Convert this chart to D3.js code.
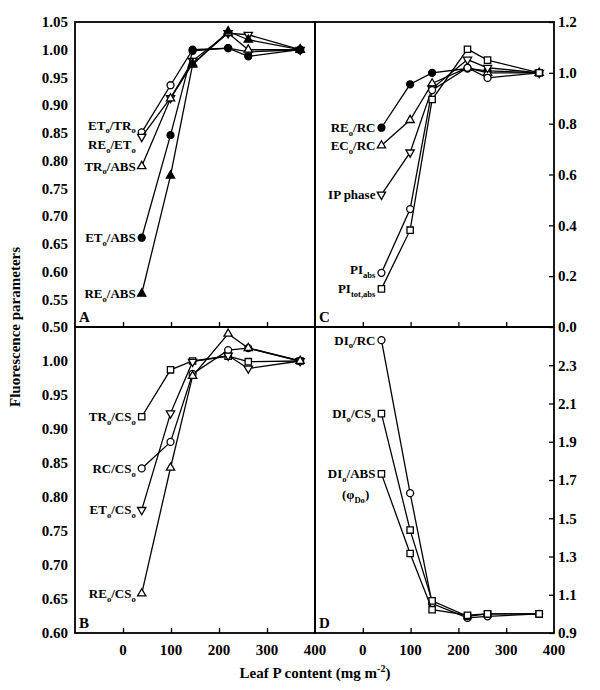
<!DOCTYPE html>
<html>
<head>
<meta charset="utf-8">
<script src="https://cdn.jsdelivr.net/npm/d3@7"></script>
<style>
  body { margin: 0; background: #fff; }
  svg text { font-family: "Liberation Serif", "Times New Roman", serif; font-weight: bold; fill: #000; }
</style>
</head>
<body>
<div id="chart"></div>
<script>
// leaf P content (mg m-2), same for every series
const leafP = [39, 99, 145, 219, 261, 369];

// panel A
const etoTro = [0.851, 0.936, 1.0, 1.003, 0.996, 1.0];
const reoEto = [0.843, 0.913, 0.98, 1.03, 1.027, 1.0];
const troAbs = [0.79, 0.912, 0.975, 1.03, 1.0, 1.0];
const etoAbs = [0.661, 0.846, 0.998, 1.003, 0.988, 1.0];
const reoAbs = [0.56, 0.773, 0.973, 1.033, 1.018, 1.0];

// panel C
const reoRc = [0.784, 0.955, 1.0, 1.017, 1.008, 1.0];
const ecoRc = [0.714, 0.814, 0.958, 1.02, 1.0, 1.0];
const ipPhase = [0.521, 0.687, 0.938, 1.052, 1.02, 1.0];
const piAbs = [0.213, 0.464, 0.932, 1.02, 0.98, 1.0];
const piTotAbs = [0.15, 0.381, 0.895, 1.093, 1.05, 1.0];

// panel B
const troCso = [0.918, 0.987, 1.0, 1.007, 0.999, 1.0];
const rcCso = [0.842, 0.881, 0.981, 1.016, 1.019, 1.0];
const etoCso = [0.781, 0.923, 0.999, 1.008, 0.989, 1.0];
const reoCso = [0.658, 0.843, 0.978, 1.04, 1.019, 1.0];

// panel D
const dioRc = [2.431, 1.631, 1.054, 0.979, 0.987, 1.0];
const dioCso = [2.047, 1.438, 1.068, 0.987, 1.0, 1.0];
const dioAbs = [1.732, 1.316, 1.022, 0.993, 1.0, 1.0];

const xTicks = [0, 100, 200, 300, 400];
const ticksA = [0.50, 0.55, 0.60, 0.65, 0.70, 0.75, 0.80, 0.85, 0.90, 0.95, 1.00, 1.05];
const ticksB = [0.60, 0.65, 0.70, 0.75, 0.80, 0.85, 0.90, 0.95, 1.00];
const ticksC = [0.0, 0.2, 0.4, 0.6, 0.8, 1.0, 1.2];
const ticksD = [0.9, 1.1, 1.3, 1.5, 1.7, 1.9, 2.1, 2.3];

// labels: {x} = subscript
const panels = [
  { id: "A", col: 0, row: 0, domain: [0.5, 1.05], ticks: ticksA, fmt: ".2f", side: "left",
    series: [
      { label: "ET{o}/TR{o}", values: etoTro, sym: "circle", fill: false, dy: -7 },
      { label: "RE{o}/ET{o}", values: reoEto, sym: "down", fill: false, dy: 8 },
      { label: "TR{o}/ABS", values: troAbs, sym: "up", fill: false },
      { label: "ET{o}/ABS", values: etoAbs, sym: "circle", fill: true },
      { label: "RE{o}/ABS", values: reoAbs, sym: "up", fill: true }
    ] },
  { id: "C", col: 1, row: 0, domain: [0, 1.2], ticks: ticksC, fmt: ".1f", side: "right",
    series: [
      { label: "RE{o}/RC", values: reoRc, sym: "circle", fill: true },
      { label: "EC{o}/RC", values: ecoRc, sym: "up", fill: false },
      { label: "IP phase", values: ipPhase, sym: "down", fill: false },
      { label: "PI{abs}", values: piAbs, sym: "circle", fill: false, dy: -3 },
      { label: "PI{tot,abs}", values: piTotAbs, sym: "square", fill: false }
    ] },
  { id: "B", col: 0, row: 1, domain: [0.6, 1.05], ticks: ticksB, fmt: ".2f", side: "left",
    series: [
      { label: "TR{o}/CS{o}", values: troCso, sym: "square", fill: false },
      { label: "RC/CS{o}", values: rcCso, sym: "circle", fill: false },
      { label: "ET{o}/CS{o}", values: etoCso, sym: "down", fill: false },
      { label: "RE{o}/CS{o}", values: reoCso, sym: "up", fill: false }
    ] },
  { id: "D", col: 1, row: 1, domain: [0.9, 2.5], ticks: ticksD, fmt: ".1f", side: "right",
    series: [
      { label: "DI{o}/RC", values: dioRc, sym: "circle", fill: false },
      { label: "DI{o}/CS{o}", values: dioCso, sym: "square", fill: false },
      { label: "DI{o}/ABS", values: dioAbs, sym: "square", fill: false, sub2: "(φ{Do})" }
    ] }
];

const width = 600, height = 690;
const colX = [75, 315, 554];
const rowY = [22, 327, 633];

const svg = d3.select("#chart").append("svg")
  .attr("width", width).attr("height", height);

const symbols = {
  circle: d3.symbol().type(d3.symbolCircle).size(38),
  square: d3.symbol().type(d3.symbolSquare).size(40),
  up: d3.symbol().type(d3.symbolTriangle).size(30),
  down: d3.symbol().type(d3.symbolTriangle).size(30)
};

// write "AB{sub}" as tspans
function richText(sel, str, fs) {
  const parts = str.split(/(\{[^}]*\})/).filter(s => s.length);
  let lowered = false;
  parts.forEach(p => {
    if (p.startsWith("{")) {
      sel.append("tspan").attr("font-size", fs * 0.66).attr("dy", fs * 0.28)
        .text(p.slice(1, -1));
      lowered = true;
    } else {
      sel.append("tspan").attr("font-size", fs).attr("dy", lowered ? -fs * 0.28 : 0)
        .text(p);
      lowered = false;
    }
  });
}

panels.forEach(p => {
  const x0 = colX[p.col], x1 = colX[p.col + 1];
  const y0 = rowY[p.row], y1 = rowY[p.row + 1];

  const x = d3.scaleLinear().domain([-100, 400]).range([x0, x1]);
  const y = d3.scaleLinear().domain(p.domain).range([y1, y0]);

  const g = svg.append("g");

  // x ticks inward
  const xAxis = d3.axisTop(x).tickValues(xTicks.filter(t => t < 400)).tickSize(5).tickFormat("");
  g.append("g").attr("transform", `translate(0,${y1})`).call(xAxis)
    .call(s => s.select(".domain").remove())
    .call(s => s.selectAll("line").attr("stroke-width", 1.3));

  // y axis ticks + labels
  const yTicks = p.ticks.filter(t => !(p.row === 1 && Math.abs(t - p.domain[1]) < 1e-9));
  if (p.side === "left") {
    const ya = d3.axisLeft(y).tickValues(yTicks).tickSize(0).tickPadding(7).tickFormat(d3.format(p.fmt));
    g.append("g").attr("transform", `translate(${x0},0)`).call(ya)
      .call(s => s.select(".domain").remove())
      .call(s => s.selectAll("text").attr("font-size", 15).attr("font-family", null));
  } else {
    const ya = d3.axisLeft(y).tickValues(yTicks).tickSize(5).tickFormat("");
    g.append("g").attr("transform", `translate(${x1},0)`).call(ya)
      .call(s => s.select(".domain").remove())
      .call(s => s.selectAll("line").attr("stroke-width", 1.3));
    g.selectAll(".rlab").data(yTicks).join("text")
      .attr("x", x1 + 4).attr("y", d => y(d)).attr("dy", "0.35em")
      .attr("font-size", 15)
      .text(d => d3.format(p.fmt)(d));
  }

  // series lines and markers
  p.series.forEach(s => {
    const pts = leafP.map((v, i) => [v, s.values[i]]);
    g.append("path").datum(pts)
      .attr("fill", "none").attr("stroke", "#000").attr("stroke-width", 1.3)
      .attr("d", d3.line().x(d => x(d[0])).y(d => y(d[1])));
    g.selectAll(null).data(pts).join("path")
      .attr("transform", d => `translate(${x(d[0])},${y(d[1])})` + (s.sym === "down" ? " rotate(180)" : ""))
      .attr("d", symbols[s.sym])
      .attr("fill", s.fill ? "#000" : "#fff")
      .attr("stroke", "#000").attr("stroke-width", 1.3);

    const lx = x(leafP[0]) - 6, ly = y(s.values[0]) + (s.dy || 0);
    const t = g.append("text").attr("x", lx).attr("y", ly + 4.5)
      .attr("text-anchor", "end").attr("font-size", 13);
    richText(t, s.label, 13);
    if (s.sub2) {
      const bb = t.node().getBBox();
      const t2 = g.append("text").attr("x", bb.x + bb.width / 2 + 4).attr("y", ly + 25)
        .attr("text-anchor", "middle").attr("font-size", 13);
      richText(t2, s.sub2, 13);
    }
  });

  // panel letter
  g.append("text").attr("x", x0 + 4).attr("y", y1 - 5).attr("font-size", 15).text(p.id);

  // frame
  g.append("rect").attr("x", x0).attr("y", y0).attr("width", x1 - x0).attr("height", y1 - y0)
    .attr("fill", "none").attr("stroke", "#000").attr("stroke-width", 1.8);
});

// bottom x tick labels
[0, 1].forEach(c => {
  const x = d3.scaleLinear().domain([-100, 400]).range([colX[c], colX[c + 1]]);
  svg.append("g").selectAll("text").data(xTicks).join("text")
    .attr("x", d => x(d)).attr("y", 655).attr("text-anchor", "middle").attr("font-size", 15)
    .text(d => d);
});

// axis titles
const xt = svg.append("text").attr("x", 315).attr("y", 678).attr("text-anchor", "middle").attr("font-size", 15);
xt.append("tspan").text("Leaf P content (mg m");
xt.append("tspan").attr("font-size", 10).attr("dy", -6).text("-2");
xt.append("tspan").attr("dy", 6).text(")");

svg.append("text").attr("transform", "translate(20,327) rotate(-90)")
  .attr("text-anchor", "middle").attr("font-size", 15).text("Fluorescence parameters");
</script>
</body>
</html>
